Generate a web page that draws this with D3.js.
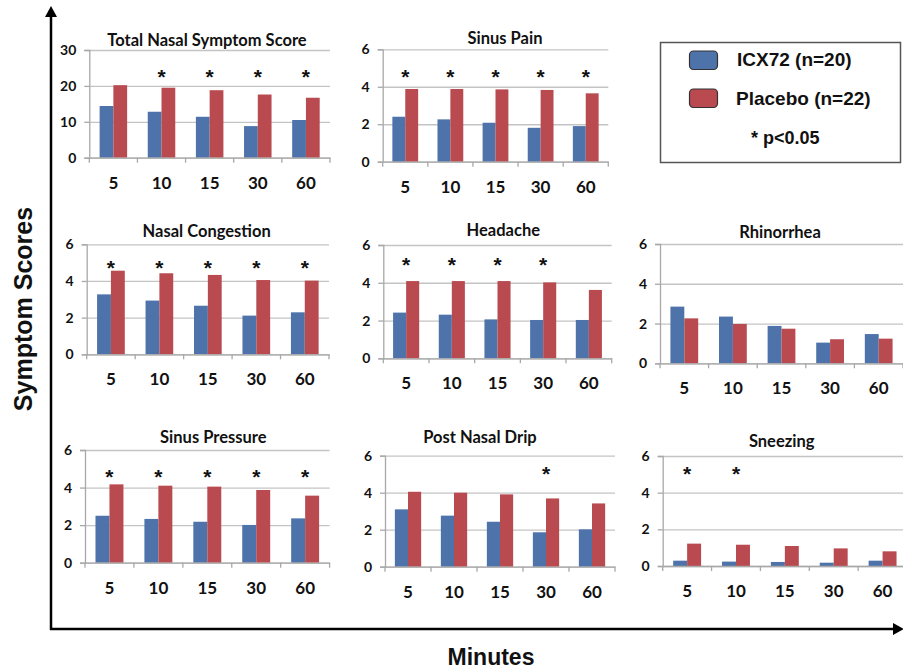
<!DOCTYPE html>
<html>
<head>
<meta charset="utf-8">
<script src="https://cdn.jsdelivr.net/npm/d3@7"></script>
<style>
  html, body { margin: 0; padding: 0; background: #fff; }
  svg { display: block; }
</style>
</head>
<body>
<svg id="chart" width="903" height="672"></svg>
<script>
// ---------------- DATA ----------------
const categories = ["5", "10", "15", "30", "60"];
const seriesNames = ["ICX72 (n=20)", "Placebo (n=22)"];
const panelTitles = ["Total Nasal Symptom Score", "Sinus Pain", "Nasal Congestion", "Headache",
  "Rhinorrhea", "Sinus Pressure", "Post Nasal Drip", "Sneezing"];
const yMaxValues = [30, 6, 6, 6, 6, 6, 6, 6];
const yTickValues = [[0, 10, 20, 30], [0, 2, 4, 6], [0, 2, 4, 6], [0, 2, 4, 6],
  [0, 2, 4, 6], [0, 2, 4, 6], [0, 2, 4, 6], [0, 2, 4, 6]];
const icx72Values = [
  [14.4, 12.8, 11.4, 8.8, 10.5],
  [2.40, 2.26, 2.08, 1.81, 1.90],
  [3.27, 2.93, 2.65, 2.11, 2.29],
  [2.42, 2.31, 2.06, 2.03, 2.03],
  [2.85, 2.35, 1.88, 1.04, 1.47],
  [2.50, 2.33, 2.18, 2.01, 2.36],
  [3.10, 2.76, 2.43, 1.86, 2.02],
  [0.29, 0.24, 0.22, 0.18, 0.29]
];
const placeboValues = [
  [20.2, 19.5, 18.8, 17.6, 16.7],
  [3.88, 3.88, 3.86, 3.83, 3.65],
  [4.56, 4.42, 4.33, 4.05, 4.02],
  [4.09, 4.09, 4.09, 4.02, 3.62],
  [2.26, 1.98, 1.74, 1.21, 1.24],
  [4.17, 4.10, 4.05, 3.87, 3.57],
  [4.05, 4.00, 3.91, 3.69, 3.42],
  [1.22, 1.16, 1.09, 0.96, 0.80]
];
const significant = [
  [0, 1, 1, 1, 1],
  [1, 1, 1, 1, 1],
  [1, 1, 1, 1, 1],
  [1, 1, 1, 1, 0],
  [0, 0, 0, 0, 0],
  [1, 1, 1, 1, 1],
  [0, 0, 0, 1, 0],
  [1, 1, 0, 0, 0]
];
const starLevels = [23.9, 4.8, 5.0, 5.2, 5.5, 4.85, 5.3, 5.27];
const legendLabels = ["ICX72 (n=20)", "Placebo (n=22)", "* p<0.05"];
const axisTitles = ["Symptom Scores", "Minutes"];

// ---------------- LAYOUT ----------------
const layout = [
  { x0: 89.3, x1: 330,   yTop: 50,    yZero: 157.7, tx: 207,   ty: 46 },
  { x0: 382.7, x1: 608.3, yTop: 49.3, yZero: 161.7, tx: 505,   ty: 44 },
  { x0: 86.7, x1: 329,   yTop: 244.3, yZero: 354.3, tx: 206.7, ty: 236.7 },
  { x0: 383.3, x1: 611.7, yTop: 245,  yZero: 358.3, tx: 503.3, ty: 235.7 },
  { x0: 660,  x1: 903,   yTop: 244,   yZero: 363.3, tx: 780,   ty: 238.3 },
  { x0: 85,   x1: 329.6, yTop: 450,   yZero: 562.7, tx: 213.3, ty: 443.3 },
  { x0: 385,  x1: 615,   yTop: 455.7, yZero: 566.7, tx: 480,   ty: 443.3 },
  { x0: 662.7, x1: 907,  yTop: 456,   yZero: 566,   tx: 781.7, ty: 447.3 }
];
const colors = ["#4D73AA", "#B94A4F"];
const panelFont = "Lato, 'Open Sans', sans-serif";
const bigFont = "'Liberation Sans', Arial, Helvetica, sans-serif";

const svg = d3.select("#chart");
svg.append("rect").attr("width", 903).attr("height", 672).attr("fill", "#fff");

layout.forEach((L, p) => {
  const g = svg.append("g");
  const x = d3.scaleBand().domain(categories).range([L.x0, L.x1]).padding(0);
  const xs = d3.scaleBand().domain(seriesNames).range([0, x.bandwidth()])
    .paddingInner(0).paddingOuter(0.75);
  const y = d3.scaleLinear().domain([0, yMaxValues[p]]).range([L.yZero, L.yTop]);

  // gridlines
  g.append("g")
    .attr("transform", `translate(${L.x0},0)`)
    .call(d3.axisLeft(y).tickValues(yTickValues[p]).tickSize(-(L.x1 - L.x0)).tickFormat(""))
    .call(s => s.select(".domain").remove())
    .call(s => s.selectAll("line").attr("stroke", "#C4C4C4").attr("stroke-width", 1.3));

  // y axis
  g.append("g")
    .attr("transform", `translate(${L.x0},0)`)
    .call(d3.axisLeft(y).tickValues(yTickValues[p]).tickFormat(d3.format("d")).tickSize(5).tickPadding(8))
    .call(s => s.select(".domain").attr("stroke", "#A8A8A8").attr("stroke-width", 1.3))
    .call(s => s.selectAll("line").attr("stroke", "#A8A8A8").attr("stroke-width", 1.3))
    .call(s => s.selectAll("text").attr("font-family", panelFont).attr("font-weight", "bold")
      .attr("font-size", 14).attr("fill", "#111"));

  // bars
  const rows = categories.map((c, i) => ({ c, vals: [icx72Values[p][i], placeboValues[p][i]] }));
  const grp = g.selectAll(".grp").data(rows).join("g")
    .attr("transform", d => `translate(${x(d.c)},0)`);
  grp.selectAll("rect").data(d => d.vals.map((v, k) => ({ v, k }))).join("rect")
    .attr("x", d => xs(seriesNames[d.k]))
    .attr("width", xs.bandwidth())
    .attr("y", d => y(d.v))
    .attr("height", d => y(0) - y(d.v))
    .attr("fill", d => colors[d.k]);

  // x axis
  g.append("g")
    .attr("transform", `translate(0,${L.yZero})`)
    .call(d3.axisBottom(x).tickSize(0).tickPadding(19))
    .call(s => s.select(".domain").attr("stroke", "#A8A8A8").attr("stroke-width", 1.3))
    .call(s => s.selectAll("text").attr("font-family", panelFont).attr("font-weight", "bold")
      .attr("font-size", 17).attr("fill", "#111"));
  // category boundary ticks
  const bounds = categories.map(c => x(c)).concat([L.x1]);
  g.selectAll(".bt").data(bounds).join("line")
    .attr("x1", d => d).attr("x2", d => d)
    .attr("y1", L.yZero).attr("y2", L.yZero + 5)
    .attr("stroke", "#A8A8A8").attr("stroke-width", 1.3);

  // significance stars
  g.selectAll(".star").data(categories.filter((c, i) => significant[p][i])).join("text")
    .attr("x", c => x(c) + x.bandwidth() / 2)
    .attr("y", y(starLevels[p]) + 12)
    .attr("text-anchor", "middle")
    .attr("font-family", bigFont).attr("font-weight", "bold").attr("font-size", 21)
    .attr("fill", "#111")
    .text("*");

  // title
  g.append("text")
    .attr("x", L.tx).attr("y", L.ty)
    .attr("text-anchor", "middle")
    .attr("font-family", panelFont).attr("font-weight", "bold").attr("font-size", 16.5)
    .attr("fill", "#111")
    .text(panelTitles[p]);
});

// ---------------- BIG AXES ----------------
svg.append("line").attr("x1", 51).attr("x2", 51).attr("y1", 630).attr("y2", 14)
  .attr("stroke", "#000").attr("stroke-width", 2.5);
svg.append("path").attr("d", "M51,6 L45,17 L57,17 Z").attr("fill", "#000");
svg.append("line").attr("x1", 50).attr("x2", 896).attr("y1", 629).attr("y2", 629)
  .attr("stroke", "#000").attr("stroke-width", 2.5);
svg.append("path").attr("d", "M904,629 L893,623 L893,635 Z").attr("fill", "#000");

svg.append("text")
  .attr("transform", "translate(32,309) rotate(-90)")
  .attr("text-anchor", "middle")
  .attr("font-family", bigFont).attr("font-weight", "bold").attr("font-size", 25)
  .attr("fill", "#111")
  .text(axisTitles[0]);
svg.append("text")
  .attr("x", 491).attr("y", 665)
  .attr("text-anchor", "middle")
  .attr("font-family", bigFont).attr("font-weight", "bold").attr("font-size", 23)
  .attr("fill", "#111")
  .text(axisTitles[1]);

// ---------------- LEGEND ----------------
const lg = svg.append("g");
lg.append("rect").attr("x", 660.5).attr("y", 42.5).attr("width", 240).attr("height", 120)
  .attr("fill", "#fff").attr("stroke", "#555").attr("stroke-width", 1.5);
[0, 1].forEach(k => {
  lg.append("rect").attr("x", 689.5).attr("y", k === 0 ? 51 : 89).attr("width", 28).attr("height", 18.5)
    .attr("rx", 4).attr("ry", 4)
    .attr("fill", colors[k]).attr("stroke", "#333").attr("stroke-width", 1.2);
  lg.append("text").attr("x", k === 0 ? 737 : 736).attr("y", k === 0 ? 66 : 105)
    .attr("font-family", bigFont).attr("font-weight", "bold").attr("font-size", 19)
    .attr("fill", "#111")
    .text(legendLabels[k]);
});
lg.append("text").attr("x", 751).attr("y", 144)
  .attr("font-family", bigFont).attr("font-weight", "bold").attr("font-size", 18)
  .attr("fill", "#111")
  .text(legendLabels[2]);
</script>
</body>
</html>
